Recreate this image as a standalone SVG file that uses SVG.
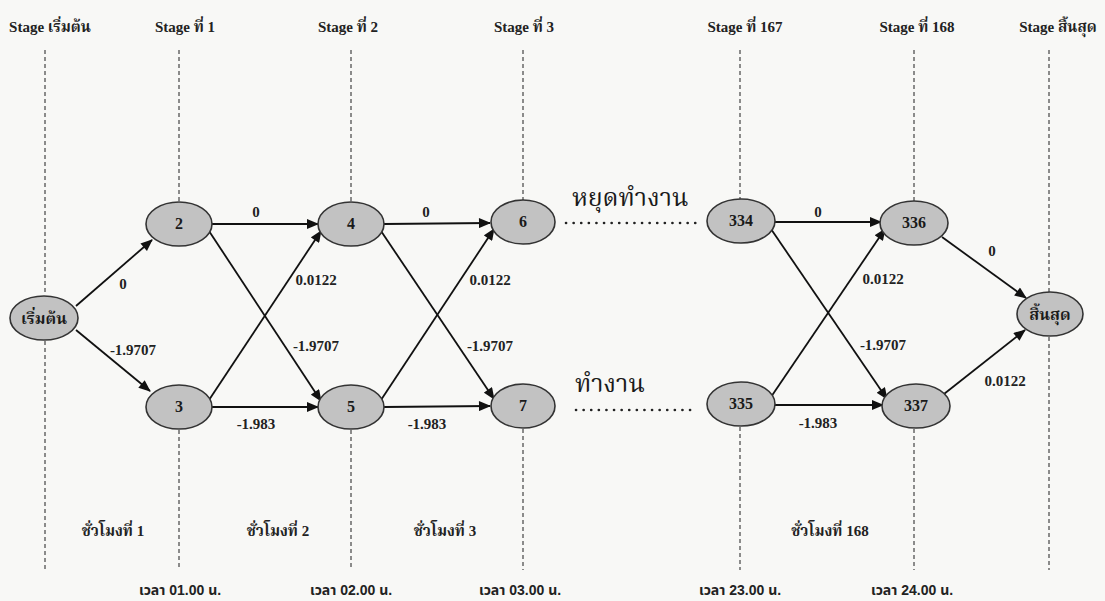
<svg xmlns="http://www.w3.org/2000/svg" width="1105" height="601" viewBox="0 0 1105 601">
  <defs>
    <marker id="arrow" viewBox="0 0 12 10" refX="11" refY="5" markerWidth="13" markerHeight="10" markerUnits="userSpaceOnUse" orient="auto">
      <path d="M0,0 L12,5 L0,10 Z" fill="#111"/>
    </marker>
    <style>
      .stage { stroke: #444; stroke-width: 1.2; stroke-dasharray: 4 3; fill: none; }
      .edge { stroke: #111; stroke-width: 1.8; fill: none; marker-end: url(#arrow); }
      .dots { stroke: #222; stroke-width: 2.6; stroke-dasharray: 0.1 7.5; stroke-linecap: round; fill: none; }
      .node ellipse { fill: #c2c2c2; stroke: #333; stroke-width: 1.6; }
      .node text { font-family: "Liberation Serif", "Noto Serif Thai", "Noto Sans Thai", serif; font-weight: bold; font-size: 16px; fill: #1a1a1a; text-anchor: middle; }
      .hdr { font-family: "Liberation Serif", "Noto Serif Thai", "Noto Sans Thai", serif; font-weight: bold; font-size: 15px; fill: #222; text-anchor: middle; }
      .w { font-family: "Liberation Serif", "Noto Serif Thai", "Noto Sans Thai", serif; font-weight: bold; font-size: 15px; fill: #222; text-anchor: middle; }
      .time { font-family: "Liberation Sans", "Noto Sans Thai", sans-serif; font-weight: bold; font-size: 14px; fill: #222; text-anchor: middle; }
      .state { font-family: "Liberation Serif", "Noto Serif Thai", "Noto Sans Thai", serif; font-size: 25px; fill: #1a1a1a; }
    </style>
  </defs>

  <rect width="1105" height="601" fill="#f8f8f6"/>

  <!-- stage headings -->
  <g id="headings">
    <text class="hdr" x="50" y="32">Stage เริ่มต้น</text>
    <text class="hdr" x="185" y="32">Stage ที่ 1</text>
    <text class="hdr" x="348" y="32">Stage ที่ 2</text>
    <text class="hdr" x="524" y="32">Stage ที่ 3</text>
    <text class="hdr" x="745" y="32">Stage ที่ 167</text>
    <text class="hdr" x="917" y="32">Stage ที่ 168</text>
    <text class="hdr" x="1058" y="32">Stage สิ้นสุด</text>
  </g>

  <!-- stage boundaries -->
  <g id="stage-lines">
    <line class="stage" x1="45" y1="50" x2="45" y2="295"/>
    <line class="stage" x1="45" y1="341" x2="45" y2="570"/>
    <line class="stage" x1="179" y1="50" x2="179" y2="202"/>
    <line class="stage" x1="179" y1="430" x2="179" y2="570"/>
    <line class="stage" x1="351" y1="50" x2="351" y2="202"/>
    <line class="stage" x1="351" y1="430" x2="351" y2="570"/>
    <line class="stage" x1="523" y1="50" x2="523" y2="200"/>
    <line class="stage" x1="523" y1="429" x2="523" y2="570"/>
    <line class="stage" x1="740" y1="50" x2="740" y2="199"/>
    <line class="stage" x1="740" y1="427" x2="740" y2="570"/>
    <line class="stage" x1="914" y1="50" x2="914" y2="201"/>
    <line class="stage" x1="914" y1="429" x2="914" y2="570"/>
    <line class="stage" x1="1049" y1="50" x2="1049" y2="292"/>
    <line class="stage" x1="1049" y1="337" x2="1049" y2="570"/>
  </g>

  <!-- connectors -->
  <g id="connectors">
    <line class="edge" x1="76" y1="306" x2="152" y2="240"/>
    <line class="edge" x1="76" y1="330" x2="150" y2="391"/>
    <line class="edge" x1="211" y1="224" x2="318" y2="224"/>
    <line class="edge" x1="209" y1="231" x2="321" y2="401"/>
    <line class="edge" x1="209" y1="400" x2="321" y2="231"/>
    <line class="edge" x1="212" y1="407" x2="318" y2="407"/>
    <line class="edge" x1="384" y1="224" x2="490" y2="223"/>
    <line class="edge" x1="381" y1="231" x2="494" y2="399"/>
    <line class="edge" x1="381" y1="400" x2="494" y2="229"/>
    <line class="edge" x1="384" y1="407" x2="490" y2="406"/>
    <line class="edge" x1="775" y1="222" x2="881" y2="222"/>
    <line class="edge" x1="771" y1="229" x2="887" y2="399"/>
    <line class="edge" x1="771" y1="397" x2="885" y2="229"/>
    <line class="edge" x1="775" y1="405" x2="883" y2="405"/>
    <line class="edge" x1="942" y1="237" x2="1026" y2="298"/>
    <line class="edge" x1="944" y1="394" x2="1025" y2="330"/>
    <line class="dots" x1="566" y1="223" x2="702" y2="223"/>
    <line class="dots" x1="576" y1="410" x2="692" y2="410"/>
  </g>

  <!-- connector weights -->
  <g id="weights">
    <text class="w" x="123" y="289">0</text>
    <text class="w" x="133" y="355">-1.9707</text>
    <text class="w" x="256" y="217">0</text>
    <text class="w" x="316" y="285">0.0122</text>
    <text class="w" x="316" y="351">-1.9707</text>
    <text class="w" x="256" y="429">-1.983</text>
    <text class="w" x="426" y="217">0</text>
    <text class="w" x="490" y="285">0.0122</text>
    <text class="w" x="490" y="351">-1.9707</text>
    <text class="w" x="427" y="429">-1.983</text>
    <text class="w" x="818" y="217">0</text>
    <text class="w" x="883" y="284">0.0122</text>
    <text class="w" x="883" y="350">-1.9707</text>
    <text class="w" x="818" y="428">-1.983</text>
    <text class="w" x="992" y="256">0</text>
    <text class="w" x="1005" y="386">0.0122</text>
  </g>

  <!-- machine states -->
  <text class="state" x="572" y="206">หยุดทำงาน</text>
  <text class="state" x="575" y="392">ทำงาน</text>

  <!-- nodes -->
  <g id="n-start" class="node"><ellipse cx="44" cy="318" rx="34" ry="22"/><text x="44" y="324">เริ่มต้น</text></g>
  <g id="n2" class="node"><ellipse cx="179" cy="224" rx="33" ry="22"/><text x="179" y="229">2</text></g>
  <g id="n3" class="node"><ellipse cx="179" cy="407" rx="33" ry="22"/><text x="179" y="412">3</text></g>
  <g id="n4" class="node"><ellipse cx="351" cy="224" rx="33" ry="22"/><text x="351" y="229">4</text></g>
  <g id="n5" class="node"><ellipse cx="351" cy="407" rx="33" ry="22"/><text x="351" y="412">5</text></g>
  <g id="n6" class="node"><ellipse cx="523" cy="222" rx="32" ry="22"/><text x="523" y="227">6</text></g>
  <g id="n7" class="node"><ellipse cx="523" cy="406" rx="32" ry="22"/><text x="523" y="411">7</text></g>
  <g id="n334" class="node"><ellipse cx="741" cy="221" rx="34" ry="22"/><text x="741" y="226">334</text></g>
  <g id="n335" class="node"><ellipse cx="741" cy="404" rx="34" ry="22"/><text x="741" y="409">335</text></g>
  <g id="n336" class="node"><ellipse cx="914" cy="223" rx="34" ry="22"/><text x="914" y="228">336</text></g>
  <g id="n337" class="node"><ellipse cx="916" cy="406" rx="34" ry="22"/><text x="916" y="411">337</text></g>
  <g id="n-end" class="node"><ellipse cx="1050" cy="314" rx="33" ry="22"/><text x="1050" y="320">สิ้นสุด</text></g>

  <!-- hour labels -->
  <g id="hours">
    <text class="w" x="113" y="536">ชั่วโมงที่ 1</text>
    <text class="w" x="278" y="536">ชั่วโมงที่ 2</text>
    <text class="w" x="445" y="536">ชั่วโมงที่ 3</text>
    <text class="w" x="830" y="536">ชั่วโมงที่ 168</text>
  </g>

  <!-- clock times -->
  <g id="times">
    <text class="time" x="180" y="595">เวลา 01.00 น.</text>
    <text class="time" x="351" y="595">เวลา 02.00 น.</text>
    <text class="time" x="520" y="595">เวลา 03.00 น.</text>
    <text class="time" x="740" y="595">เวลา 23.00 น.</text>
    <text class="time" x="912" y="595">เวลา 24.00 น.</text>
  </g>
</svg>
